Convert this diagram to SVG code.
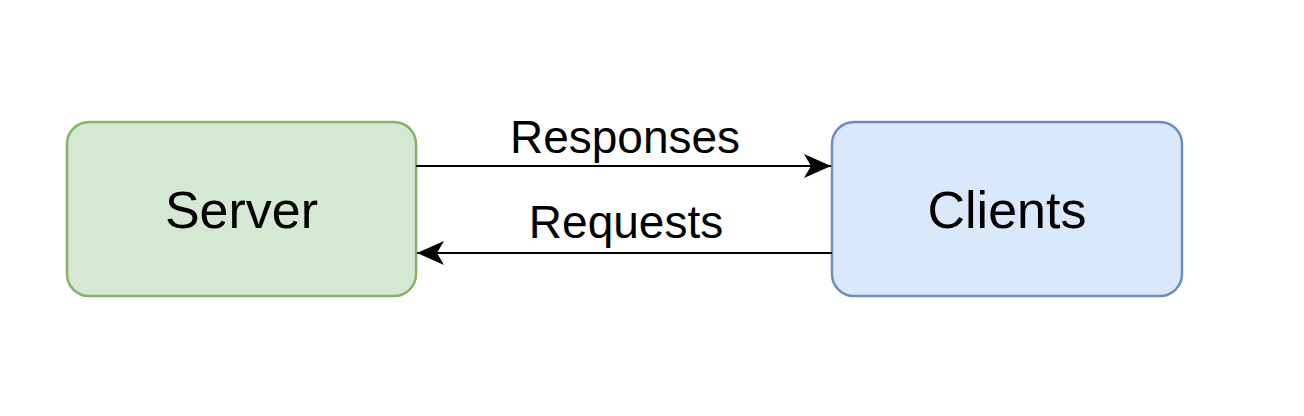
<svg xmlns="http://www.w3.org/2000/svg" width="1304" height="416" viewBox="0 0 1304 416">
<style>
.node-text{font-family:"Liberation Sans",Arial,Helvetica,sans-serif;fill:#000;text-anchor:middle;font-size:52px}
.conn{stroke:#000;stroke-width:2;fill:none}
.lbl{font-family:"Liberation Sans",Arial,Helvetica,sans-serif;font-size:46px;fill:#000;text-anchor:middle}
</style>
<defs>
<marker id="arrow" markerUnits="userSpaceOnUse" viewBox="-28 -14 30 28" refX="0" refY="0" markerWidth="30" markerHeight="28" orient="auto">
<path d="M0,0 L-27,-12 L-20,0 L-27,12 Z" fill="#000"/>
</marker>
</defs>
<rect width="1304" height="416" fill="#fff"/>
<g id="server">
<rect x="67" y="122" width="349" height="174" rx="22" ry="22" fill="#d5e8d4" stroke="#82b366" stroke-width="2.5"/>
<text class="node-text" x="241.5" y="228">Server</text>
</g>
<g id="clients">
<rect x="832" y="122" width="350" height="174" rx="22" ry="22" fill="#dae8fc" stroke="#6c8ebf" stroke-width="2.5"/>
<text class="node-text" x="1007" y="228">Clients</text>
</g>
<g id="connectors">
<line class="conn" x1="416" y1="166" x2="831" y2="166" marker-end="url(#arrow)"/>
<line class="conn" x1="832" y1="253" x2="417" y2="253" marker-end="url(#arrow)"/>
<text class="lbl" x="625" y="153">Responses</text>
<text class="lbl" x="626" y="238">Requests</text>
</g>
</svg>
